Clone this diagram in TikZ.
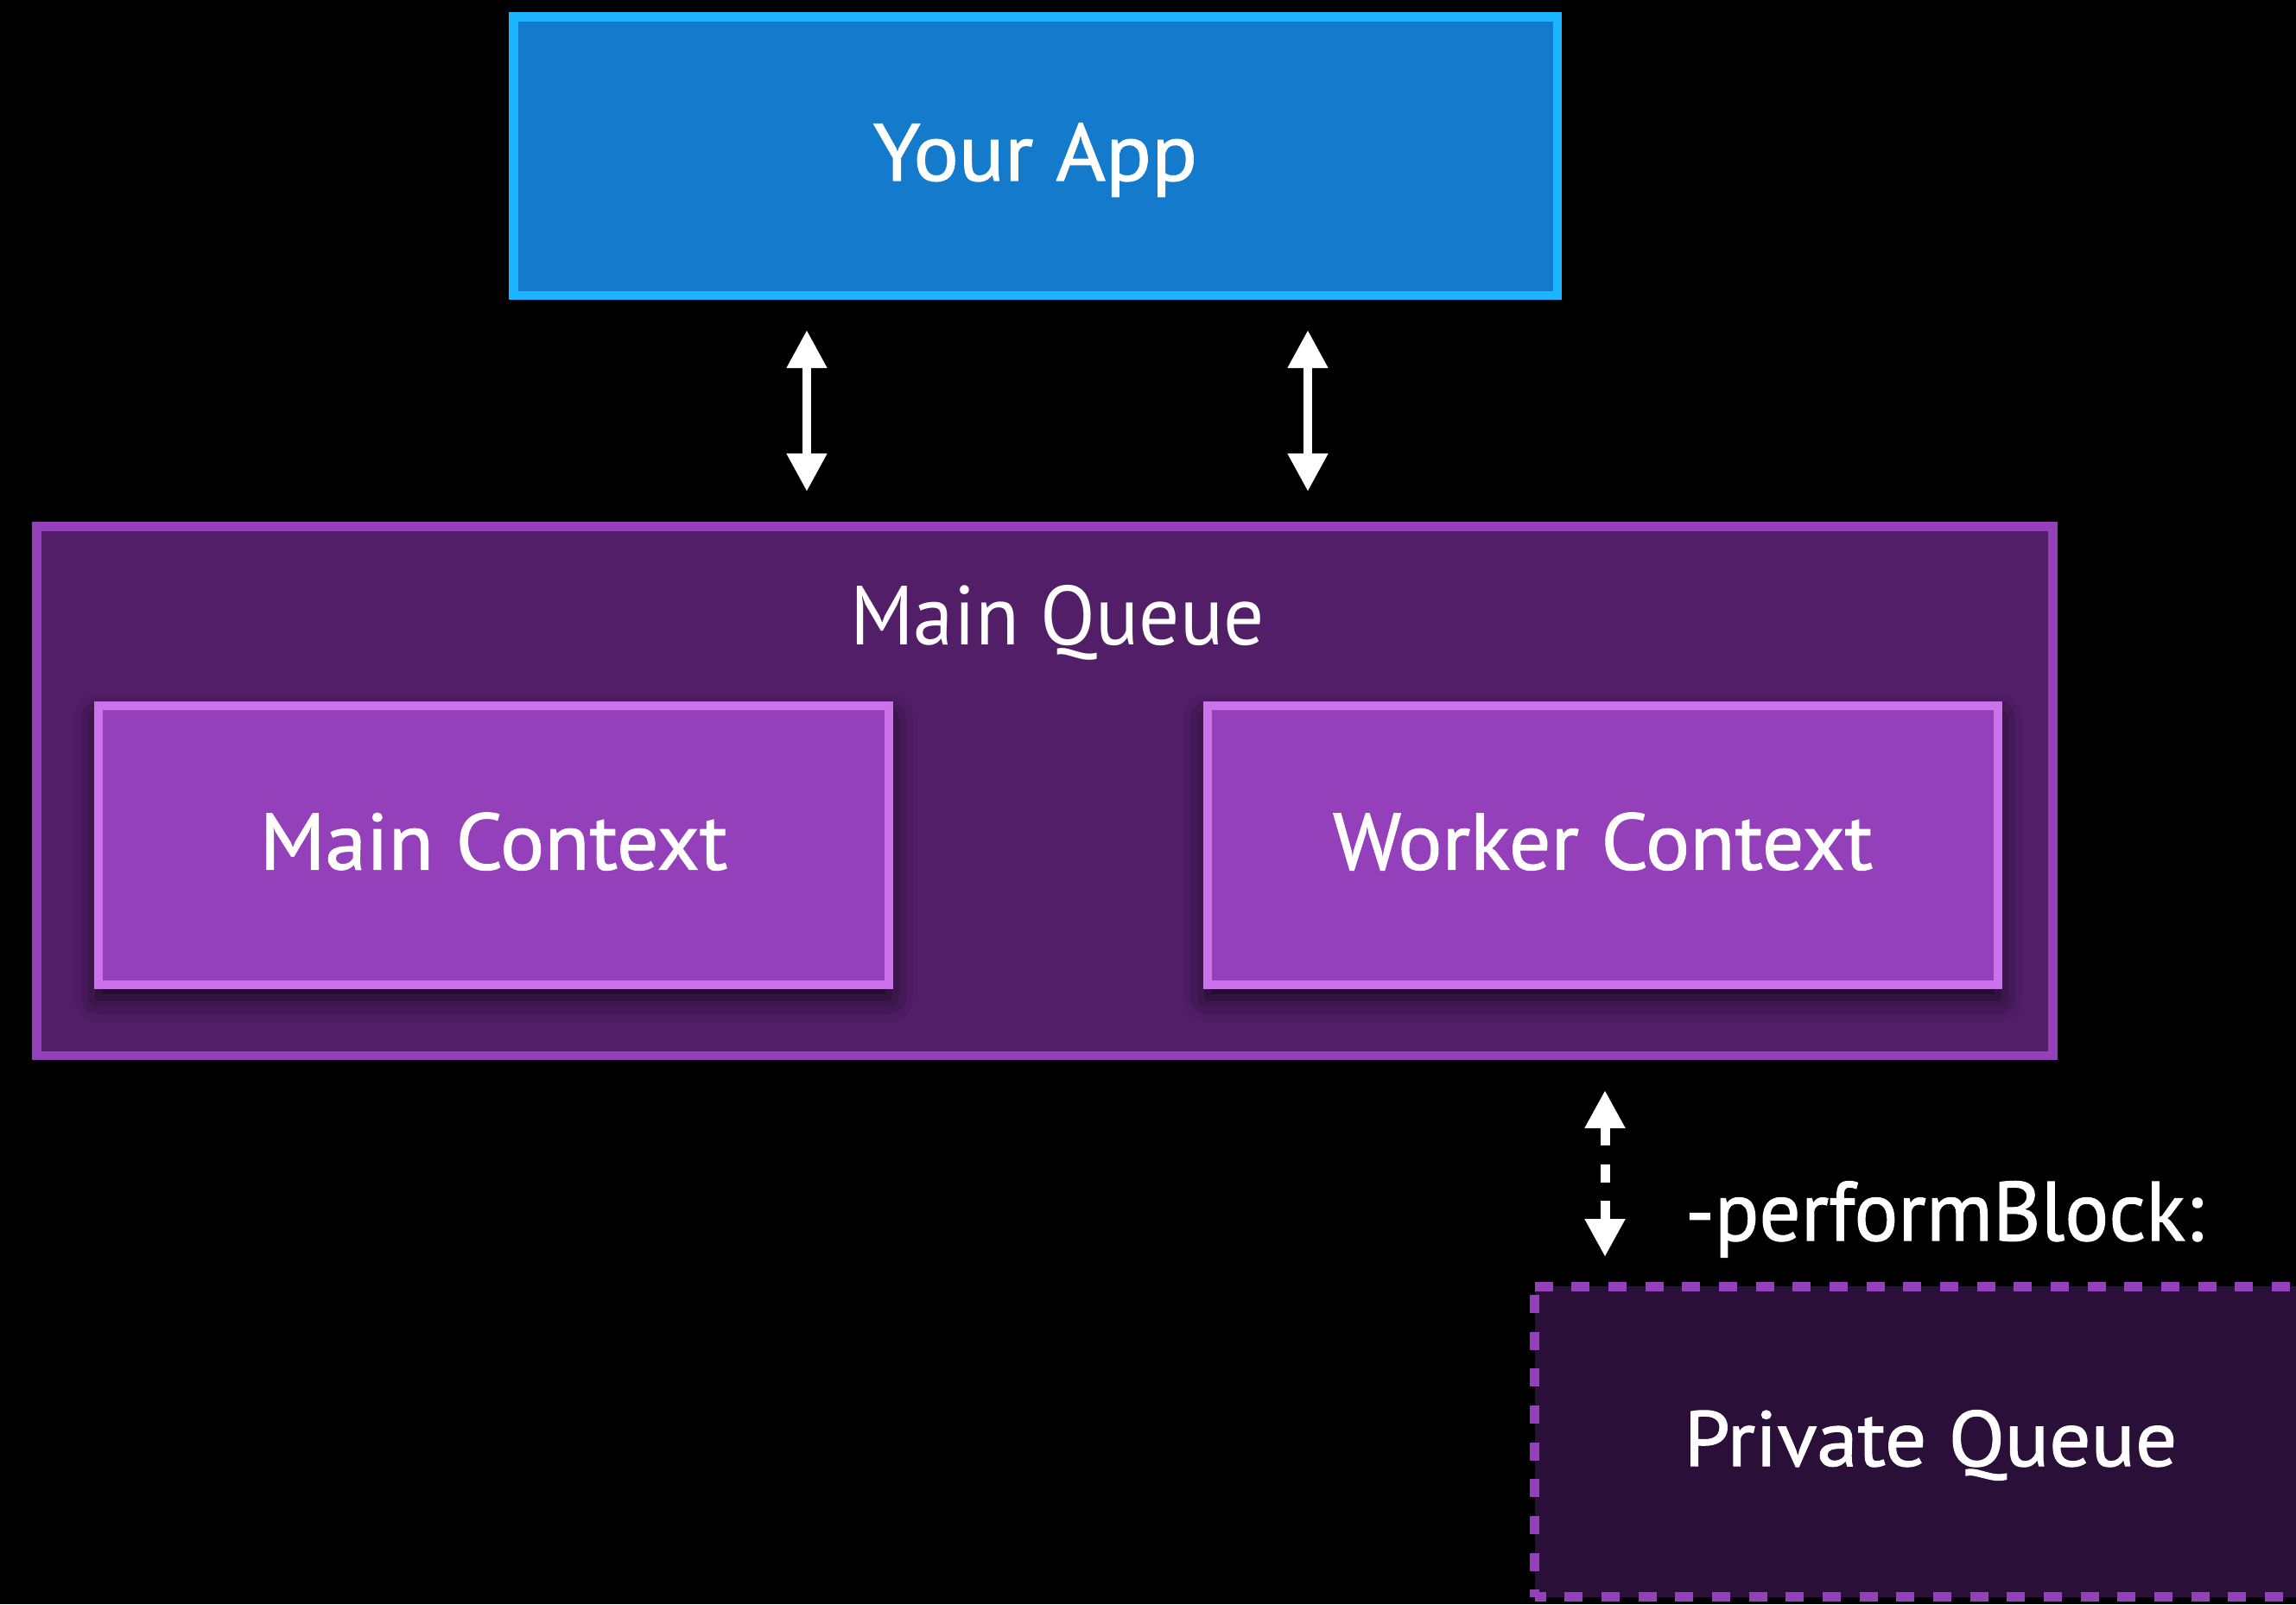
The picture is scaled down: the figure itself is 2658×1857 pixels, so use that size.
\documentclass[tikz,border=0pt]{standalone}
\usepackage{graphicx}
\usepackage{fontspec}
\setmainfont{PT Sans}
\newfontfamily\semib[FakeBold=1.2]{PT Sans}
\usetikzlibrary{arrows.meta,shadows.blur}

% one drawing unit = one pixel of the 2658 x 1857 canvas
\newlength\pxu
\setlength\pxu{0.01cm}

% horizontally widen or narrow a label
\newcommand\wide[2]{\scalebox{#1}[1]{#2}}

\definecolor{appfill}{HTML}{137ACC}
\definecolor{appline}{HTML}{1CB4FF}
\definecolor{mqfill}{HTML}{521E68}
\definecolor{mqline}{HTML}{9440BA}
\definecolor{ctxfill}{HTML}{9440BA}
\definecolor{ctxline}{HTML}{CC72EC}
\definecolor{pqfill}{HTML}{2A1038}
\definecolor{pqline}{HTML}{9440BA}

\tikzset{
  boxbase/.style={rectangle, inner sep=0pt, text=white, text depth=0pt},
  appbox/.style={boxbase, fill=appfill, draw=appline, line width=10.5\pxu,
    font=\semib\fontsize{26.6}{30}\selectfont},
  mqbox/.style={boxbase, fill=mqfill, draw=mqline, line width=10.5\pxu},
  ctxbox/.style={boxbase, fill=ctxfill, draw=ctxline, line width=10\pxu,
    minimum width=915\pxu, minimum height=323\pxu, text height=57\pxu,
    font=\semib\fontsize{26.3}{30}\selectfont,
    blur shadow={shadow xshift=0pt, shadow yshift=-0.15cm,
      shadow blur radius=0.28cm, shadow opacity=80}},
  pqbox/.style={boxbase, fill=pqfill, outer sep=0pt,
    font=\semib\fontsize{25.8}{30}\selectfont},
  pqedge/.style={draw=pqline, line width=11\pxu,
    dash pattern=on 21\pxu off 21.67\pxu},
  tipT/.tip={Triangle[length=0.44cm, width=0.44cm]},
  dblarrow/.style={tipT-tipT, white, line width=10.5\pxu,
    shorten <=35\pxu, shorten >=35\pxu},
  dsharrow/.style={tipT-tipT, white, line width=11\pxu,
    dash pattern=on 21\pxu off 21.5\pxu, dash phase=40.5\pxu,
    shorten <=35\pxu, shorten >=34\pxu},
  plainlabel/.style={inner sep=0pt, text=white}
}

\begin{document}
\begin{tikzpicture}[x=0.01cm, y=-0.01cm]
  \useasboundingbox (0,0) rectangle (2658,1857);
  \fill[black] (0,0) rectangle (2658,1857);

  % application layer
  \node[appbox, minimum width=1208.5\pxu, minimum height=322.5\pxu,
        text height=57\pxu] (app) at (1198.5,180.5) {\wide{1.05}{Your App}};

  % main queue with its two contexts
  \node[mqbox, minimum width=2334\pxu, minimum height=612.5\pxu]
        (mq) at (1209.25,915.5) {};
  \node[plainlabel, anchor=base, font=\fontsize{27.6}{30}\selectfont]
        (mqlabel) at (1224,746) {\wide{0.96}{Main Queue}};
  \node[ctxbox] (mainctx) at (571.5,978) {\wide{1.035}{Main Context}};
  \node[ctxbox] (workerctx) at (1855.5,978) {\wide{1.035}{Worker Context}};

  % private queue, running off the right edge
  \node[pqbox, minimum width=917\pxu, minimum height=359.5\pxu,
        text height=56.5\pxu] (pq) at (2235,1668.75) {\wide{1.05}{Private Queue}};
  \draw[pqedge] (pq.north west) -- (pq.north east);
  \draw[pqedge, dash phase=8\pxu] (pq.south west) -- (pq.south east);
  \draw[pqedge, dash phase=32.67\pxu] (pq.north west) -- (pq.south west);

  % connectors
  \coordinate (colL) at (934,0);
  \coordinate (colR) at (1514,0);
  \coordinate (colD) at (1858,0);
  \draw[dblarrow] (app.south -| colL) -- (mq.north -| colL);
  \draw[dblarrow] (app.south -| colR) -- (mq.north -| colR);
  \draw[dsharrow] (mq.south -| colD) -- (pq.north -| colD);

  \node[plainlabel, anchor=base west, font=\semib\fontsize{27.6}{30}\selectfont]
        (pblabel) at (1950,1436) {\wide{0.98}{-performBlock:}};
\end{tikzpicture}
\end{document}
